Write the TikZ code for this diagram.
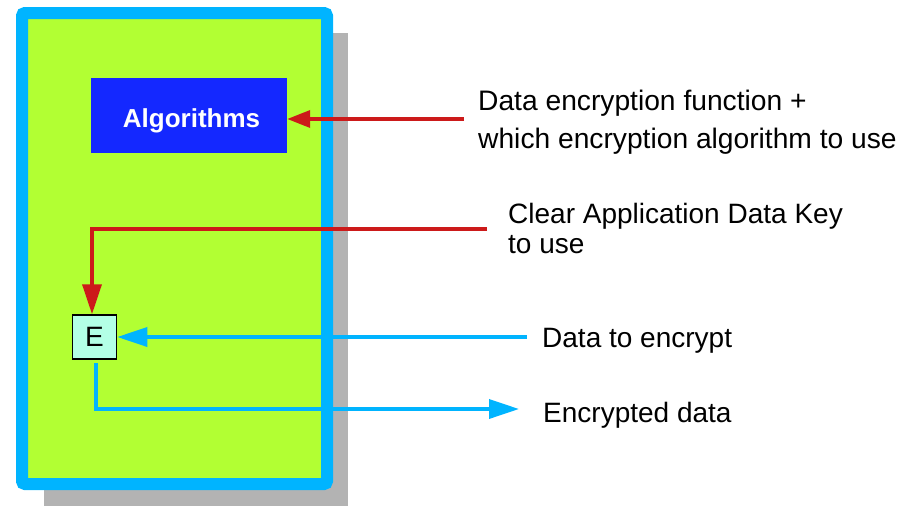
\documentclass[tikz,border=0pt]{standalone}
\usepackage{fontspec}
\setmainfont{Liberation Sans}
\usetikzlibrary{arrows.meta}
\definecolor{frameblue}{RGB}{0,180,255}
\definecolor{boxgreen}{RGB}{178,255,51}
\definecolor{algblue}{RGB}{20,40,255}
\definecolor{arrred}{RGB}{204,26,26}
\definecolor{efill}{RGB}{179,255,230}
\definecolor{shadowgray}{RGB}{179,179,179}
\tikzset{
  lbl/.style={anchor=base west, inner sep=0pt, font=\fontsize{28}{32}\selectfont, align=left},
  redline/.style={draw=arrred, line width=3.5pt},
  blueline/.style={draw=frameblue, line width=3.5pt},
  bigtip/.style={-{Triangle[length=30pt,width=19pt]}},
}
\begin{document}
\begin{tikzpicture}[x=1pt,y=-1pt]
\useasboundingbox (0,0) rectangle (901,506);
% shadow
\fill[shadowgray] (44,33) rectangle (348,506);
% frame
\draw[frameblue, line width=12pt, fill=boxgreen, rounded corners=3pt] (22,13) rectangle (327,484);
% algorithms
\node[fill=algblue, minimum width=196pt, minimum height=75pt, inner sep=0pt] (alg) at (189,115.5) {};
\node[text=white, inner sep=0pt, anchor=base, font=\fontsize{26}{28}\selectfont\bfseries] (algtxt) at (191.5,127) {Algorithms};
% E box
\node[draw=black, line width=1.5pt, fill=efill, minimum width=44pt, minimum height=44pt, inner sep=0pt,
      font=\fontsize{28}{30}\selectfont] (E) at (94.5,337) {E};
% labels
\node[lbl, font=\fontsize{28.2}{38}\selectfont] (t1) at (478,148) {Data encryption function +\\which encryption algorithm to use};
\node[lbl, font=\fontsize{28}{30}\selectfont] (t2) at (508,253) {Clear Application Data Key\\to use};
\node[lbl] (t3) at (542,347) {Data to encrypt};
\node[lbl] (t4) at (543,422) {Encrypted data};
% connectors
\coordinate (r1) at (464,119);
\coordinate (r2) at (487,229);
\coordinate (b1) at (527,337);
\coordinate (b2) at (519,409);
\draw[redline, -{Triangle[length=23pt,width=17pt]}] (r1) -- (alg.east |- r1);
\draw[redline, bigtip] (r2) -- (92,229) -- (E.north -| 92,0);
\draw[blueline, bigtip] (b1) -- (E.east);
\draw[blueline, bigtip] (96,363) -- (96,409) -- (b2);
\end{tikzpicture}
\end{document}
